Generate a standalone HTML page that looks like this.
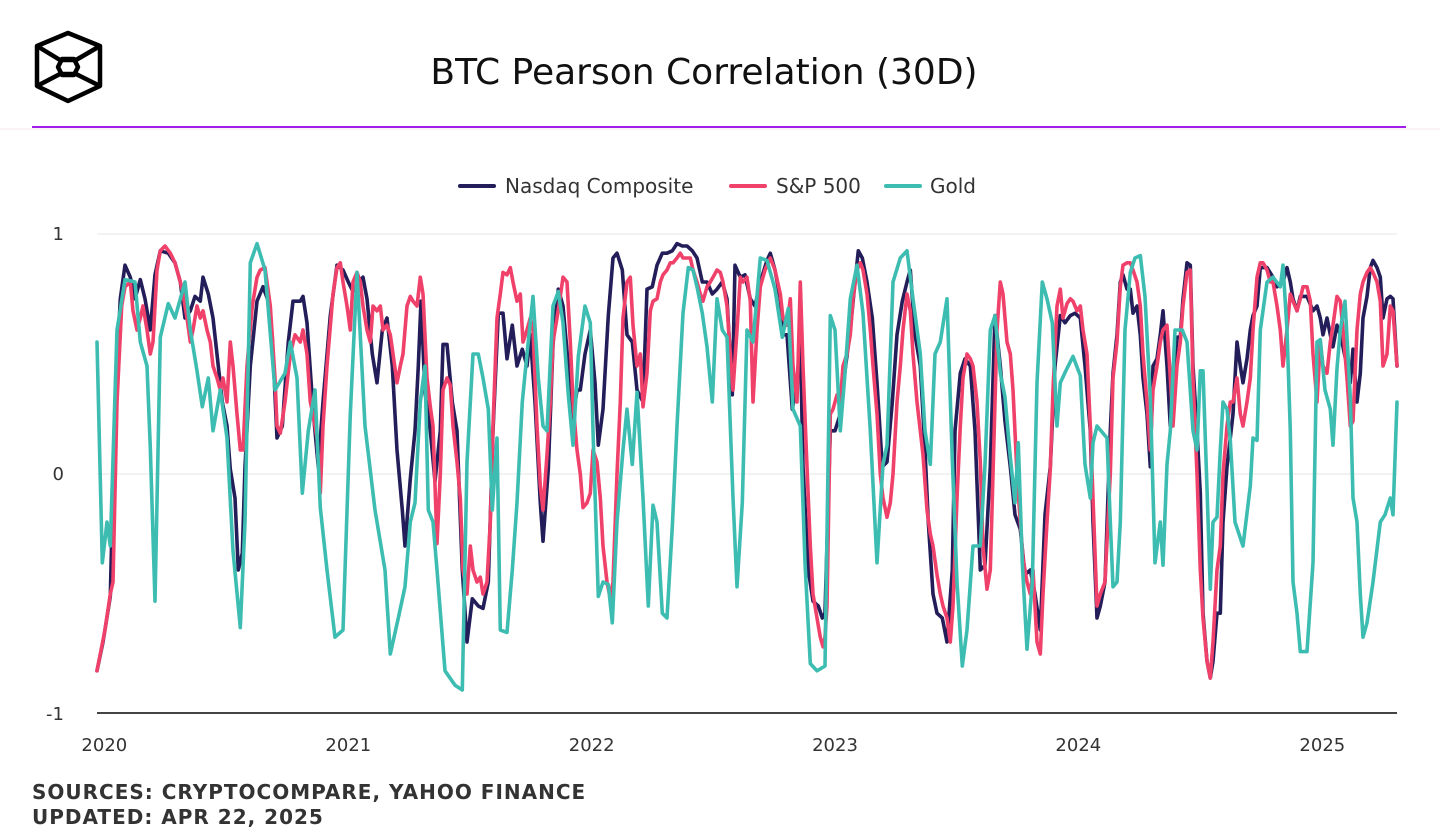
<!DOCTYPE html>
<html><head><meta charset="utf-8"><style>
body{margin:0;background:#fff;width:1440px;height:840px;overflow:hidden;font-family:"Liberation Sans","DejaVu Sans",sans-serif;}
svg{display:block}
</style></head><body>
<svg id="chart" width="1440" height="840" xmlns="http://www.w3.org/2000/svg">
<g fill="none" stroke="#000" stroke-width="4.5" stroke-linejoin="round">
<polygon points="68,33 100,46 100,86 68,101 37,86 37,46"/>
<polyline points="37,46 60,60 76,60 100,46"/>
<polyline points="37,86 60,74 76,74 100,86"/>
<polygon points="62,59 74,59 78,67 74,75 62,75 58,67"/>
</g>
<text x="704" y="84" text-anchor="middle" font-size="36" fill="#111" font-family="DejaVu Sans, sans-serif">BTC Pearson Correlation (30D)</text>
<line x1="0" y1="129" x2="1440" y2="129" stroke="#f6e9f2" stroke-width="1"/>
<line x1="32" y1="127" x2="1406" y2="127" stroke="#a11ee8" stroke-width="2"/>
<g font-size="20" fill="#333" font-family="DejaVu Sans, sans-serif">
<g><line x1="460" y1="186" x2="494" y2="186" stroke="#231d5a" stroke-width="4" stroke-linecap="round"/><text x="505" y="193">Nasdaq Composite</text></g>
<g><line x1="731" y1="186" x2="765" y2="186" stroke="#f0416a" stroke-width="4" stroke-linecap="round"/><text x="776" y="193">S&amp;P 500</text></g>
<g><line x1="886" y1="186" x2="920" y2="186" stroke="#3dbdb1" stroke-width="4" stroke-linecap="round"/><text x="930" y="193">Gold</text></g>
</g>
<g id="grid"></g>
<g id="series"></g>
<g id="axes"></g>
<text x="32" y="799" font-size="20" font-weight="bold" fill="#333" letter-spacing="1" font-family="DejaVu Sans, sans-serif">SOURCES: CRYPTOCOMPARE, YAHOO FINANCE</text>
<text x="32" y="824" font-size="20" font-weight="bold" fill="#333" letter-spacing="1" font-family="DejaVu Sans, sans-serif">UPDATED: APR 22, 2025</text>
</svg>
<script>
// days since 2019-12-27
const yTicks=[1,0,-1];
const yTickLabels=["1","0","-1"];
const xTickDays=[5,371,736,1101,1466,1832];
const xTickLabels=["2020","2021","2022","2023","2024","2025"];
const nasdaqDays=[0,9,20,27,35,42,50,57,65,72,80,87,95,107,117,125,132,140,147,155,159,167,174,182,188,195,200,207,212,218,222,230,240,249,257,263,270,278,287,294,305,309,315,324,332,339,350,360,369,377,384,392,399,405,413,420,428,435,443,450,458,462,470,477,482,486,492,500,507,515,519,525,533,540,548,555,563,572,579,587,594,602,609,615,623,630,638,645,650,657,665,669,677,684,692,699,707,714,720,725,732,740,747,752,759,767,774,780,788,795,803,810,819,825,833,840,848,855,863,870,878,885,893,900,908,915,923,930,938,945,953,957,965,972,980,987,995,1005,1010,1017,1025,1029,1035,1043,1050,1055,1059,1067,1074,1082,1088,1092,1100,1107,1115,1122,1130,1137,1142,1148,1155,1163,1170,1178,1185,1193,1200,1208,1215,1220,1227,1235,1242,1247,1254,1260,1268,1275,1283,1287,1295,1302,1310,1317,1325,1332,1340,1347,1355,1362,1370,1377,1385,1392,1400,1407,1415,1422,1430,1437,1445,1452,1460,1467,1475,1482,1490,1494,1500,1505,1512,1520,1524,1530,1535,1539,1545,1550,1554,1560,1565,1569,1575,1580,1584,1590,1595,1599,1605,1610,1614,1620,1625,1629,1635,1640,1644,1650,1655,1659,1665,1670,1674,1680,1685,1689,1695,1700,1704,1710,1715,1719,1725,1730,1734,1740,1745,1755,1764,1770,1779,1785,1790,1794,1800,1805,1815,1824,1830,1835,1839,1845,1850,1854,1860,1865,1869,1875,1880,1884,1890,1895,1899,1905,1910,1914,1920,1925,1929,1935,1940,1944,1950];
const nasdaqVals=[-0.82,-0.7,-0.51,0.3,0.73,0.87,0.82,0.73,0.81,0.73,0.6,0.83,0.93,0.92,0.88,0.8,0.65,0.68,0.74,0.72,0.82,0.75,0.65,0.45,0.3,0.2,0.02,-0.1,-0.4,-0.33,0.03,0.45,0.72,0.78,0.72,0.57,0.15,0.2,0.55,0.72,0.72,0.74,0.63,0.27,0.03,0.3,0.66,0.87,0.85,0.8,0.76,0.8,0.82,0.73,0.5,0.38,0.6,0.65,0.45,0.1,-0.15,-0.3,-0.02,0.18,0.45,0.72,0.34,0.18,-0.03,0.18,0.54,0.54,0.3,0.18,-0.4,-0.7,-0.52,-0.55,-0.56,-0.45,0.18,0.67,0.67,0.48,0.62,0.45,0.52,0.45,0.58,0.3,-0.12,-0.28,0.02,0.54,0.77,0.7,0.45,0.23,0.35,0.35,0.5,0.6,0.38,0.12,0.27,0.66,0.9,0.92,0.85,0.58,0.55,0.35,0.3,0.77,0.78,0.87,0.92,0.92,0.93,0.96,0.95,0.95,0.93,0.9,0.8,0.8,0.75,0.77,0.8,0.73,0.33,0.87,0.82,0.83,0.73,0.7,0.8,0.89,0.92,0.85,0.73,0.58,0.58,0.27,0.38,0.58,0.03,-0.4,-0.53,-0.55,-0.6,-0.58,0.18,0.18,0.25,0.43,0.6,0.8,0.93,0.9,0.8,0.65,0.38,0.03,0.05,0.3,0.58,0.72,0.8,0.85,0.58,0.45,0.1,-0.2,-0.5,-0.58,-0.6,-0.7,-0.4,0.18,0.42,0.48,0.45,0.18,-0.4,-0.38,0.03,0.66,0.45,0.22,0.03,-0.17,-0.23,-0.42,-0.4,-0.5,-0.65,-0.17,0.03,0.45,0.66,0.63,0.66,0.67,0.65,0.45,0.18,-0.2,-0.6,-0.55,-0.45,0.18,0.42,0.58,0.8,0.83,0.77,0.77,0.67,0.7,0.58,0.4,0.25,0.03,0.45,0.48,0.58,0.68,0.45,0.2,0.38,0.57,0.57,0.73,0.88,0.87,0.45,0.18,-0.08,-0.58,-0.78,-0.85,-0.78,-0.58,-0.58,-0.2,0.03,0.15,0.25,0.55,0.45,0.38,0.48,0.6,0.66,0.7,0.86,0.86,0.82,0.78,0.8,0.86,0.8,0.73,0.68,0.74,0.74,0.68,0.7,0.65,0.58,0.65,0.58,0.53,0.62,0.58,0.53,0.45,0.38,0.52,0.3,0.42,0.65,0.74,0.86,0.89,0.86,0.82,0.65,0.73,0.74,0.73,0.45];
const spDays=[0,12,20,24,30,37,42,50,54,60,65,69,75,80,84,90,95,102,110,117,125,129,135,140,144,150,155,159,165,170,174,180,185,189,195,200,204,210,215,219,225,233,240,245,252,260,267,270,275,282,290,297,305,309,315,320,324,330,335,339,345,354,360,365,369,375,380,384,390,395,399,405,410,414,420,425,429,435,440,444,450,455,459,465,470,474,480,485,489,495,500,504,510,515,519,525,530,534,540,545,549,555,560,564,570,575,579,585,590,594,600,605,609,615,620,624,630,635,639,645,650,654,660,665,669,675,680,684,690,695,699,705,710,714,720,725,729,735,740,744,750,755,759,765,770,774,780,785,789,795,800,804,810,815,819,825,830,834,840,845,849,855,860,864,870,875,879,885,890,894,900,905,909,915,920,924,930,935,939,945,950,954,960,965,969,975,980,984,990,995,1002,1010,1017,1025,1029,1035,1040,1044,1050,1055,1059,1064,1070,1074,1080,1085,1089,1092,1095,1100,1104,1110,1115,1119,1125,1130,1134,1140,1145,1149,1155,1160,1164,1170,1175,1179,1185,1190,1194,1200,1205,1209,1215,1220,1224,1230,1235,1239,1245,1250,1254,1260,1265,1269,1275,1280,1284,1290,1295,1299,1305,1310,1314,1320,1325,1329,1335,1340,1344,1350,1355,1359,1365,1370,1374,1380,1385,1389,1395,1400,1404,1410,1415,1419,1425,1430,1434,1440,1445,1449,1455,1460,1464,1470,1475,1479,1485,1490,1494,1500,1505,1512,1520,1524,1530,1535,1539,1545,1550,1554,1560,1565,1569,1575,1580,1584,1590,1595,1599,1605,1610,1614,1620,1625,1629,1635,1640,1644,1650,1655,1659,1665,1670,1674,1680,1685,1689,1695,1700,1704,1710,1715,1719,1725,1730,1734,1740,1745,1749,1755,1760,1764,1770,1775,1779,1785,1790,1794,1800,1805,1809,1815,1820,1824,1830,1835,1839,1845,1850,1854,1860,1865,1869,1875,1880,1884,1890,1895,1899,1905,1910,1914,1920,1925,1929,1935,1940,1944,1950];
const spVals=[-0.82,-0.65,-0.5,-0.45,0.3,0.7,0.78,0.8,0.68,0.6,0.65,0.7,0.6,0.5,0.55,0.85,0.93,0.95,0.92,0.88,0.8,0.75,0.65,0.55,0.6,0.7,0.65,0.68,0.6,0.55,0.45,0.4,0.35,0.4,0.3,0.55,0.45,0.25,0.1,0.1,0.45,0.7,0.82,0.85,0.86,0.7,0.4,0.2,0.17,0.3,0.5,0.58,0.55,0.6,0.5,0.3,0.25,0.15,-0.08,0.2,0.45,0.75,0.86,0.88,0.8,0.7,0.6,0.8,0.84,0.8,0.7,0.6,0.55,0.7,0.68,0.7,0.6,0.62,0.58,0.5,0.38,0.45,0.5,0.7,0.74,0.72,0.7,0.82,0.75,0.4,0.28,0.2,-0.29,0,0.35,0.4,0.37,0.2,0.05,-0.1,-0.4,-0.5,-0.3,-0.4,-0.45,-0.43,-0.5,-0.45,-0.2,0.2,0.65,0.75,0.84,0.83,0.86,0.8,0.72,0.75,0.55,0.6,0.65,0.6,0.2,-0.05,-0.15,0.08,0.3,0.55,0.65,0.74,0.82,0.8,0.55,0.3,0.1,0,-0.14,-0.12,-0.08,0.1,0.05,-0.1,-0.3,-0.45,-0.52,-0.45,0,0.3,0.65,0.8,0.82,0.62,0.45,0.5,0.28,0.42,0.68,0.72,0.73,0.8,0.83,0.85,0.88,0.88,0.9,0.92,0.9,0.9,0.9,0.85,0.8,0.75,0.72,0.78,0.8,0.82,0.85,0.84,0.8,0.7,0.5,0.35,0.6,0.82,0.8,0.82,0.72,0.3,0.6,0.78,0.85,0.9,0.85,0.75,0.65,0.62,0.73,0.45,0.3,0.8,0.45,0.1,-0.3,-0.5,-0.6,-0.68,-0.72,-0.68,-0.55,0.25,0.27,0.33,0.3,0.45,0.5,0.58,0.73,0.85,0.88,0.85,0.75,0.6,0.45,0.25,0,-0.1,-0.18,-0.12,0,0.3,0.45,0.6,0.75,0.68,0.5,0.3,0.18,0.08,-0.15,-0.25,-0.3,-0.42,-0.5,-0.55,-0.6,-0.7,-0.55,-0.1,0.2,0.4,0.5,0.48,0.45,0.3,0.05,-0.3,-0.48,-0.4,0,0.6,0.8,0.75,0.55,0.5,0.35,0,-0.2,-0.35,-0.45,-0.5,-0.4,-0.7,-0.75,-0.5,-0.2,0.02,0.35,0.7,0.77,0.65,0.71,0.73,0.72,0.68,0.7,0.6,0.5,0.2,-0.1,-0.55,-0.5,-0.45,0,0.4,0.55,0.78,0.87,0.88,0.88,0.85,0.8,0.7,0.5,0.3,0.1,0.35,0.45,0.55,0.6,0.62,0.4,0.2,0.45,0.55,0.7,0.84,0.85,0.4,0,-0.4,-0.6,-0.78,-0.85,-0.7,-0.4,-0.3,0,0.2,0.3,0.3,0.4,0.25,0.2,0.3,0.4,0.6,0.82,0.88,0.88,0.85,0.8,0.8,0.7,0.6,0.45,0.6,0.75,0.72,0.68,0.73,0.78,0.78,0.72,0.5,0.3,0.55,0.45,0.42,0.55,0.62,0.74,0.72,0.6,0.4,0.2,0.22,0.6,0.75,0.8,0.84,0.86,0.84,0.8,0.72,0.45,0.5,0.7,0.68,0.45];
const goldDays=[0,8,15,20,30,42,57,65,75,80,87,95,107,117,132,140,150,158,167,174,185,195,204,215,222,230,240,252,267,282,290,300,308,317,327,335,345,357,369,380,390,402,417,432,440,452,462,470,477,485,492,497,504,510,522,537,548,555,564,572,579,587,593,600,605,615,623,630,638,645,654,662,669,675,684,692,699,707,714,722,732,740,744,752,759,767,773,780,789,795,803,810,819,827,834,840,848,855,863,870,879,887,894,900,908,915,923,930,938,945,954,960,968,975,984,995,1005,1017,1028,1037,1044,1055,1062,1070,1080,1092,1100,1107,1115,1122,1130,1140,1149,1160,1170,1179,1185,1194,1205,1215,1224,1235,1242,1250,1257,1265,1275,1283,1290,1298,1305,1314,1325,1332,1340,1347,1355,1362,1370,1377,1382,1388,1395,1403,1410,1418,1425,1433,1440,1445,1455,1464,1475,1482,1490,1494,1500,1515,1520,1524,1530,1535,1542,1550,1557,1565,1572,1580,1587,1595,1599,1605,1610,1617,1628,1635,1644,1650,1655,1659,1665,1670,1674,1680,1685,1689,1695,1700,1707,1719,1730,1734,1740,1745,1755,1764,1775,1779,1785,1790,1794,1800,1805,1815,1824,1830,1835,1842,1850,1854,1860,1865,1872,1880,1884,1890,1895,1899,1905,1914,1925,1932,1940,1944,1950];
const goldVals=[0.55,-0.37,-0.2,-0.3,0.6,0.81,0.8,0.55,0.45,0.11,-0.53,0.57,0.71,0.65,0.8,0.6,0.43,0.28,0.4,0.18,0.35,0.15,-0.32,-0.64,-0.2,0.88,0.96,0.85,0.35,0.42,0.55,0.4,-0.08,0.18,0.35,-0.14,-0.4,-0.68,-0.65,0.25,0.84,0.2,-0.15,-0.4,-0.75,-0.6,-0.47,-0.2,-0.12,0.3,0.45,-0.15,-0.2,-0.4,-0.82,-0.88,-0.9,0.05,0.5,0.5,0.4,0.27,-0.15,0.15,-0.65,-0.66,-0.4,-0.12,0.3,0.5,0.74,0.4,0.2,0.18,0.7,0.76,0.63,0.33,0.12,0.49,0.7,0.63,0.18,-0.51,-0.45,-0.46,-0.62,-0.2,0.1,0.27,0.04,0.34,-0.1,-0.55,-0.13,-0.2,-0.58,-0.6,-0.22,0.2,0.67,0.86,0.85,0.78,0.67,0.53,0.3,0.73,0.6,0.57,-0.1,-0.47,-0.12,0.6,0.55,0.9,0.89,0.77,0.57,0.69,0.27,0.2,-0.37,-0.79,-0.82,-0.8,0.66,0.6,0.18,0.42,0.73,0.87,0.67,0.18,-0.37,0.04,0.12,0.8,0.9,0.93,0.73,0.5,0.18,0.04,0.5,0.55,0.73,0.06,-0.45,-0.8,-0.65,-0.3,-0.3,0.04,0.6,0.66,0.42,0.32,0.07,-0.12,0.13,-0.37,-0.73,-0.45,0.38,0.8,0.73,0.63,0.2,0.38,0.44,0.49,0.41,0.04,-0.1,0.13,0.2,0.15,-0.2,-0.47,-0.45,-0.2,0.6,0.84,0.9,0.91,0.74,0.32,-0.37,-0.2,-0.38,0.04,0.18,0.6,0.6,0.55,0.18,0.1,0.43,0.43,-0.06,-0.48,-0.2,-0.18,0.1,0.3,0.27,0.14,-0.2,-0.3,-0.05,0.15,0.14,0.6,0.8,0.82,0.78,0.87,0.6,0.18,-0.45,-0.58,-0.74,-0.74,-0.37,0.55,0.56,0.35,0.27,0.12,0.44,0.6,0.72,0.32,-0.1,-0.2,-0.5,-0.68,-0.62,-0.45,-0.2,-0.17,-0.1,-0.17,0.3];

const NS='http://www.w3.org/2000/svg';
const X0=97,X1=1397,DAYMAX=1950,Y1=234,Y0=474,YM=713;
function xScale(d){return X0+(X1-X0)*d/DAYMAX;}
function yScale(v){return Y0-(Y0-Y1)*v;}
function mk(tag,attrs,parent){const e=document.createElementNS(NS,tag);for(const k in attrs)e.setAttribute(k,attrs[k]);parent.appendChild(e);return e;}
const grid=document.getElementById('grid'),axes=document.getElementById('axes'),series=document.getElementById('series');
yTicks.forEach((t,i)=>{
  const y=yScale(t);
  if(t!==-1){const l=mk('line',{x1:X0,x2:X1,y1:y,y2:y,stroke:'#e4e4e4','stroke-width':1},grid);
    
    }
  const tx=mk('text',{x:64,y:y+6,'text-anchor':'end','font-size':18,fill:'#333','font-family':'DejaVu Sans, sans-serif'},axes);
  tx.textContent=yTickLabels[i];
  
  
});
const ax=mk('line',{x1:X0,x2:X1,y1:YM,y2:YM,stroke:'#444','stroke-width':2},axes);


xTickDays.forEach((d,i)=>{
  const tx=mk('text',{x:xScale(d)+4,y:751,'text-anchor':'middle','font-size':18,fill:'#333','font-family':'DejaVu Sans, sans-serif'},axes);
  tx.textContent=xTickLabels[i];
  
  
});
function drawLine(days,vals,color,name){
  const d=days.map((dd,i)=>(i?'L':'M')+xScale(dd).toFixed(1)+','+yScale(vals[i]).toFixed(1)).join('');
  const p=mk('path',{d:d,fill:'none',stroke:color,'stroke-width':3.6,'stroke-linejoin':'round','stroke-linecap':'round'},series);
  
  
}
drawLine(nasdaqDays,nasdaqVals,'#231d5a','nasdaq-line');
drawLine(spDays,spVals,'#f0416a','sp500-line');
drawLine(goldDays,goldVals,'#3dbdb1','gold-line');
</script>
</body></html>
